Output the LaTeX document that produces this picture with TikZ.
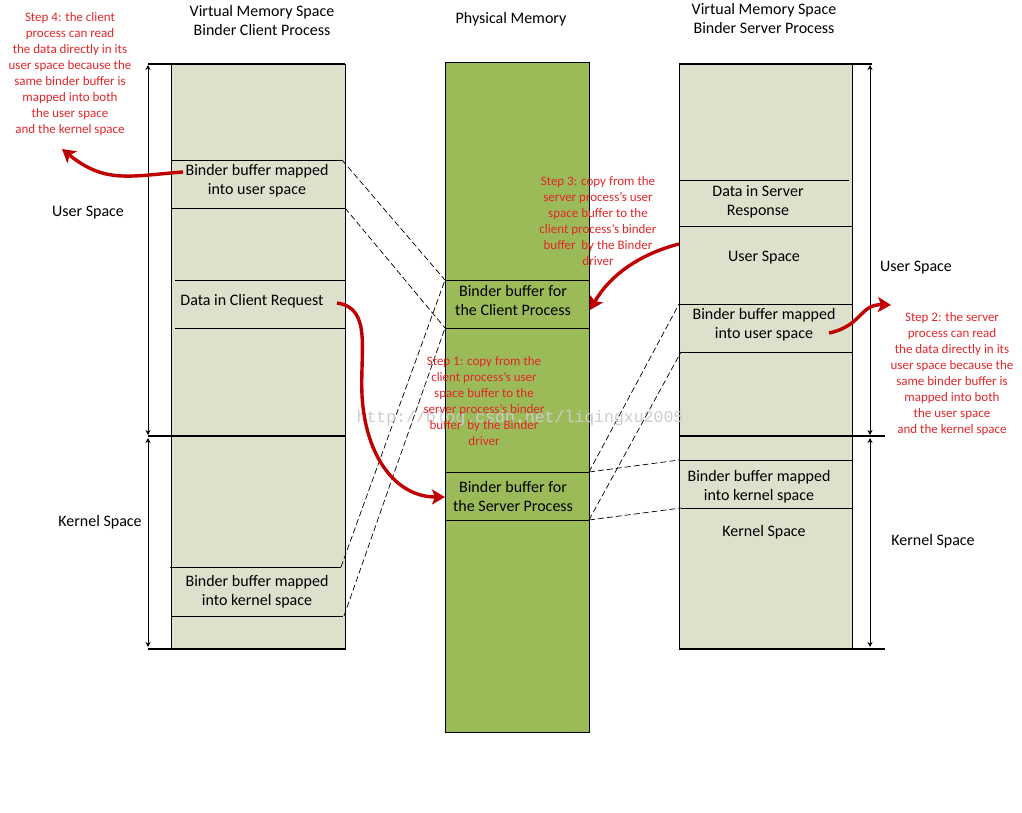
\documentclass[tikz,border=0pt]{standalone}
\usepackage{fontspec}
\setmainfont{Carlito}
\newfontfamily\wmfont{Liberation Mono}
\usetikzlibrary{arrows.meta}
\definecolor{panelfill}{HTML}{DDE0CB}
\definecolor{physfill}{HTML}{9BBB59}
\definecolor{arrowred}{HTML}{C00000}
\definecolor{notered}{HTML}{E3262B}
\tikzset{
  thin line/.style={line width=0.8pt},
  thick line/.style={line width=2.6pt},
  lbl/.style={font=\fontsize{16}{19}\selectfont, align=center, inner sep=0pt},
  note/.style={font=\fontsize{13}{16}\selectfont, text=notered, align=center, inner sep=0pt},
  mapline/.style={dashed, dash pattern=on 6pt off 3pt, line width=0.7pt},
  redarrow/.style={draw=arrowred, line width=3.4pt, -{Stealth[length=13pt,width=15pt,inset=3pt]}},
  dimarrow/.style={line width=0.8pt, {Stealth[length=5pt,width=5pt]}-{Stealth[length=5pt,width=5pt]}},
}
\begin{document}
\begin{tikzpicture}[x=1pt,y=-1pt]
\useasboundingbox (0,0) rectangle (1022,813);
\fill[white] (0,0) rectangle (1022,813);

% ---------- titles
\node[lbl] (tleft) at (262,21) {Virtual Memory Space\\Binder Client Process};
\node[lbl] (tmid) at (511,19) {Physical Memory};
\node[lbl] (tright) at (764,19) {Virtual Memory Space\\Binder Server Process};

% ---------- left panel (client)
\node[draw, thin line, fill=panelfill, anchor=north west, minimum width=174pt, minimum height=585pt, inner sep=0pt] (lpanel) at (171,64) {};
\draw[thin line] (171,160) -- (342,160);
\draw[thin line] (171,208) -- (345,208);
\draw[thin line] (175,280) -- (345,280);
\draw[thin line] (175,328) -- (345,328);
\draw[thin line] (170,567) -- (341,567);
\draw[thin line] (171,616) -- (343,616);
\draw[thick line] (148,64) -- (345,64);
\draw[thick line] (148,436) -- (345,436);
\draw[thick line] (148,649) -- (345,649);
\coordinate (lu1) at (148,65);
\coordinate (lu2) at (148,435);
\coordinate (lk1) at (148,438);
\coordinate (lk2) at (148,647);
\draw[dimarrow] (lu1) -- (lu2);
\draw[dimarrow] (lk1) -- (lk2);
\node[lbl] (lubuf) at (257,181) {Binder buffer mapped\\into user space};
\node[lbl] (lreq) at (252,301) {Data in Client Request};
\node[lbl] (lkbuf) at (257,592) {Binder buffer mapped\\into kernel space};
\node[lbl] (luser) at (88,213) {User Space};
\node[lbl] (lkern) at (100,522) {Kernel Space};

% ---------- physical memory
\node[draw, thin line, fill=physfill, anchor=north west, minimum width=144pt, minimum height=670pt, inner sep=0pt] (phys) at (445,62) {};
\draw[thin line] (445,280) -- (589,280);
\draw[thin line] (445,328) -- (589,328);
\draw[thin line] (445,472) -- (589,472);
\draw[thin line] (445,520) -- (589,520);
\node[lbl] (pclient) at (513,301) {Binder buffer for\\the Client Process};
\node[lbl] (pserver) at (513,496) {Binder buffer for\\the Server Process};

% ---------- right panel (server)
\node[draw, thin line, fill=panelfill, anchor=north west, minimum width=173pt, minimum height=585pt, inner sep=0pt] (rpanel) at (679,64) {};
\draw[thin line] (679,180) -- (849,180);
\draw[thin line] (679,226) -- (852,226);
\draw[thin line] (679,304) -- (852,304);
\draw[thin line] (681,352) -- (853,352);
\draw[thin line] (679,460) -- (853,460);
\draw[thin line] (681,508) -- (853,508);
\draw[thick line] (679,64) -- (872,64);
\draw[thick line] (679,436) -- (885,436);
\draw[thick line] (679,649) -- (885,649);
\coordinate (ru1) at (870,65);
\coordinate (ru2) at (870,435);
\coordinate (rk1) at (870,438);
\coordinate (rk2) at (870,647);
\draw[dimarrow] (ru1) -- (ru2);
\draw[dimarrow] (rk1) -- (rk2);
\node[lbl] (rresp) at (758,202) {Data in Server\\Response};
\node[lbl] (ruserin) at (764,258) {User Space};
\node[lbl] (rubuf) at (764,325) {Binder buffer mapped\\into user space};
\node[lbl] (rkbuf) at (759,487) {Binder buffer mapped\\into kernel space};
\node[lbl] (rkernin) at (764,532) {Kernel Space};
\node[lbl] (ruser) at (916,268) {User Space};
\node[lbl] (rkern) at (933,541) {Kernel Space};

% ---------- mapping coordinates
\coordinate (lu-top) at (342,160);
\coordinate (lu-bot) at (345,208);
\coordinate (lk-top) at (341,567);
\coordinate (lk-bot) at (344,616);
\coordinate (pc-top) at (445,280);
\coordinate (pc-bot) at (445,328);
\coordinate (ps-top) at (589,472);
\coordinate (ps-bot) at (589,520);
\coordinate (ru-top) at (679,304);
\coordinate (ru-bot) at (681,352);
\coordinate (rk-top) at (679,460);
\coordinate (rk-bot) at (681,508);

\draw[mapline] (lu-top) -- (pc-top);
\draw[mapline] (lu-bot) -- (pc-bot);
\draw[mapline] (lk-top) -- (pc-top);
\draw[mapline] (lk-bot) -- (pc-bot);
\draw[mapline] (ps-top) -- (ru-top);
\draw[mapline] (ps-bot) -- (ru-bot);
\draw[mapline] (ps-top) -- (rk-top);
\draw[mapline] (ps-bot) -- (rk-bot);

% ---------- watermark
\node[font=\wmfont\fontsize{16.5}{18}\selectfont, text=black!20, inner sep=0pt] (wm) at (520,418) {http://blog.csdn.net/liqingxu2005};

% ---------- notes
\node[note] (step4) at (70,74) {Step 4: the client\\process can read\\the data directly in its\\user space because the\\same binder buffer is\\mapped into both\\the user space\\and the kernel space};
\node[note] (step3) at (598,221) {Step 3: copy from the\\server process's user\\space buffer to the\\client process's binder\\buffer\ \ by the Binder\\driver};
\node[note] (step1) at (484,401) {Step 1: copy from the\\client process's user\\space buffer to the\\server process's binder\\buffer\ \ by the Binder\\driver};
\node[note] (step2) at (952,374) {Step 2: the server\\process can read\\the data directly in its\\user space because the\\same binder buffer is\\mapped into both\\the user space\\and the kernel space};

% ---------- red arrows
\coordinate (a4s) at (183,172);
\coordinate (a4e) at (62,149);
\draw[redarrow] (a4s) .. controls (130,176) and (105,184) .. (a4e);
\coordinate (a1s) at (337,303);
\coordinate (a1e) at (445,497);
\draw[redarrow] (a1s) .. controls (372,308) and (360,350) .. (362,395) .. controls (365,455) and (395,497) .. (a1e);
\coordinate (a3s) at (679,244);
\coordinate (a3e) at (590,310);
\draw[redarrow] (a3s) .. controls (640,254) and (610,275) .. (a3e);
\coordinate (a2s) at (829,333);
\coordinate (a2e) at (891,305);
\draw[redarrow] (a2s) .. controls (862,326) and (860,304) .. (a2e);
\end{tikzpicture}
\end{document}
